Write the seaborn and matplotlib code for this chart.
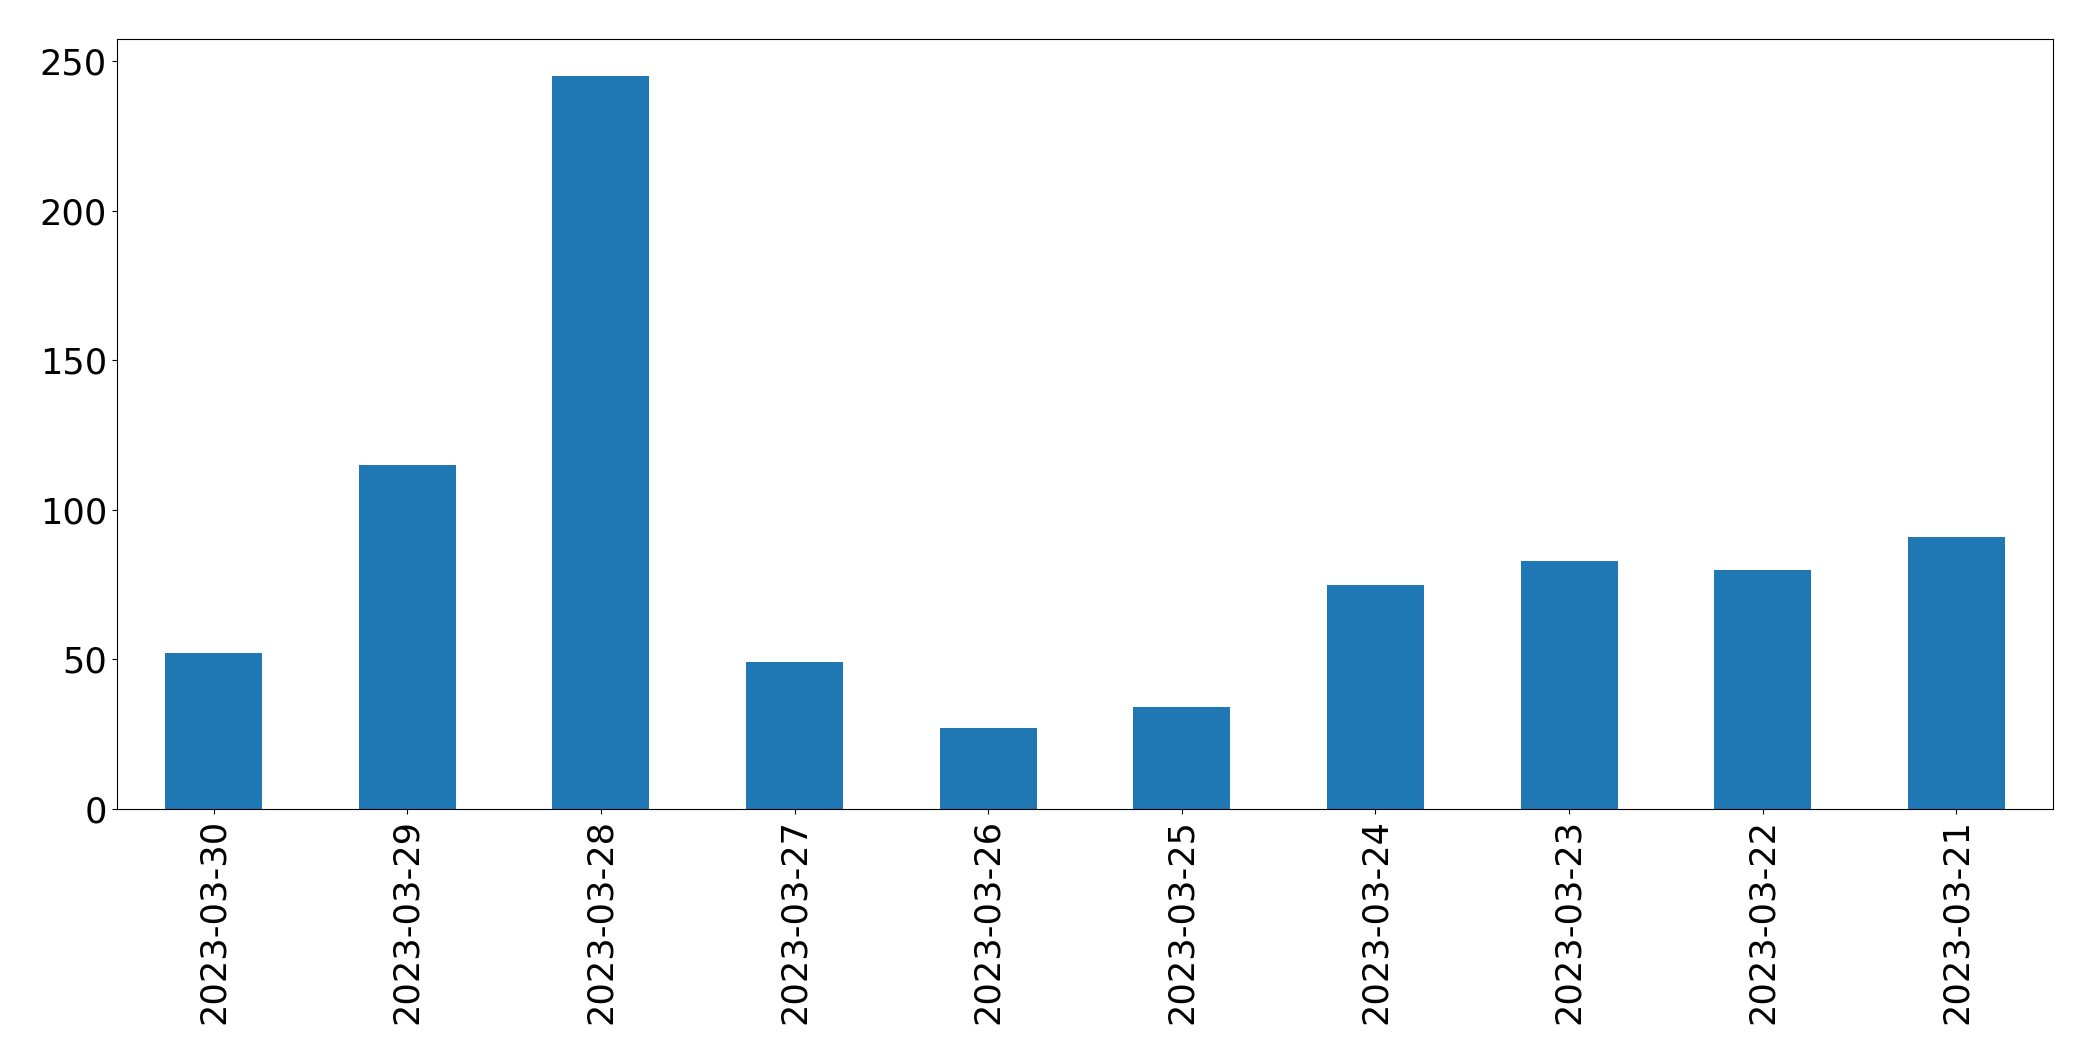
import matplotlib
matplotlib.use("Agg")
import matplotlib.pyplot as plt
import seaborn as sns
import pandas as pd

dates = ["2023-03-30", "2023-03-29", "2023-03-28", "2023-03-27", "2023-03-26",
         "2023-03-25", "2023-03-24", "2023-03-23", "2023-03-22", "2023-03-21"]
counts = [52, 115, 245, 49, 27, 34, 75, 83, 80, 91]

df = pd.DataFrame({"date": dates, "count": counts})

fig = plt.figure(figsize=(20.93, 10.61), dpi=100)
ax = fig.add_axes([0.0558, 0.2375, 0.981 - 0.0558, 0.963 - 0.2375])
sns.barplot(data=df, x="date", y="count", order=dates, color="#1f77b4",
            saturation=1, width=0.5, ax=ax)
ax.set_xlim(-0.5, len(dates) - 0.5)
ax.set_xlabel("")
ax.set_ylabel("")
ax.tick_params(axis="both", labelsize=25.3)
ax.tick_params(axis="x", labelrotation=90)
for s in ax.spines.values():
    s.set_visible(True)
    s.set_color("black")
fig.savefig("out.png", dpi=100)
